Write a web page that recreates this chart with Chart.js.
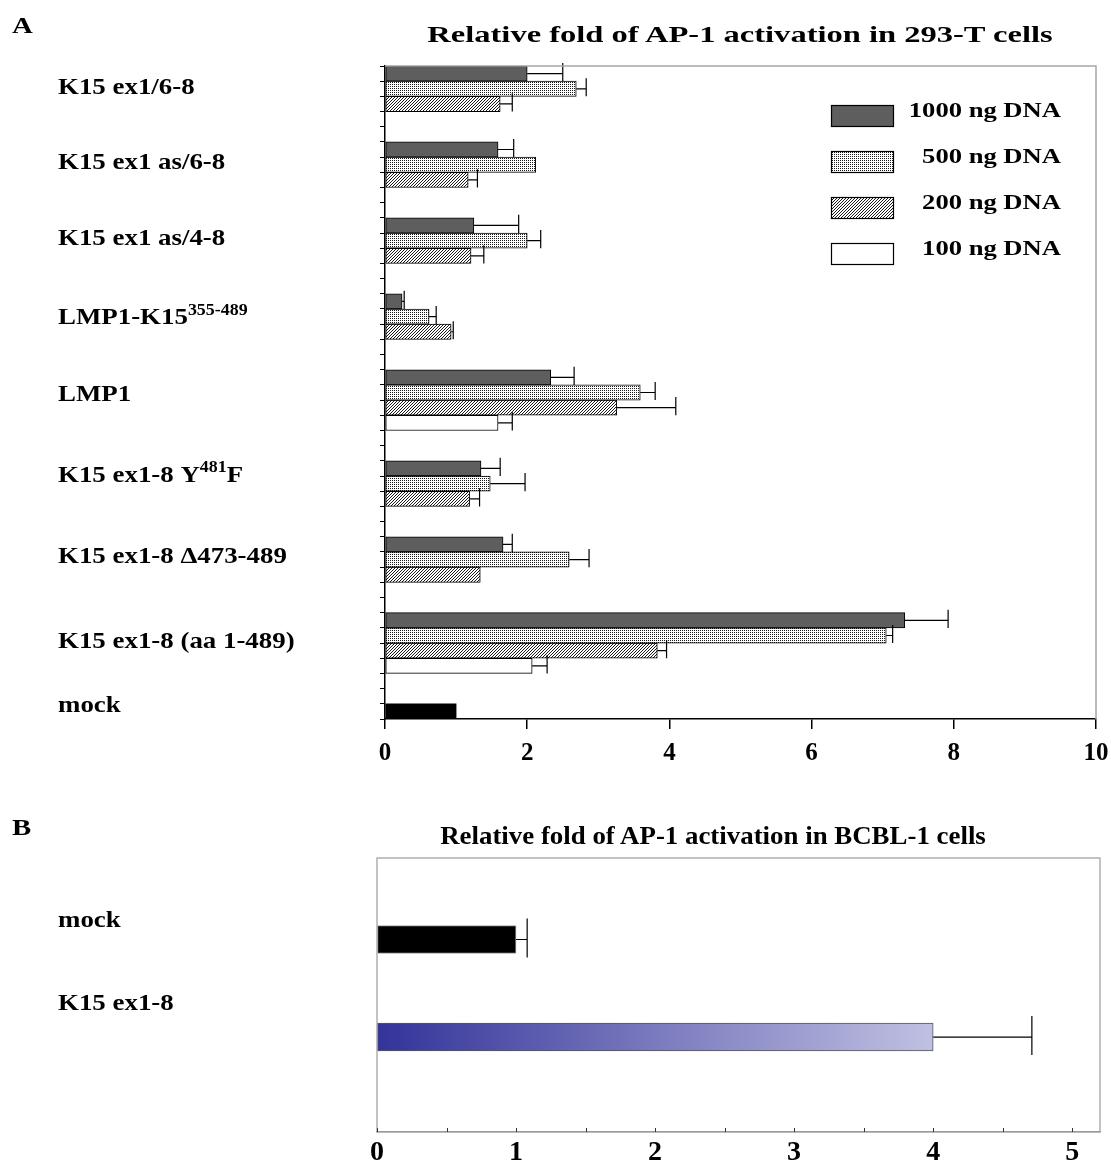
<!DOCTYPE html>
<html>
<head>
<meta charset="utf-8">
<script src="https://cdn.jsdelivr.net/npm/chart.js@4/dist/chart.umd.min.js"></script>
<style>
  html, body { margin: 0; padding: 0; background: #fff; }
  #page { position: relative; width: 1111px; height: 1165px; overflow: hidden; background: #fff;
          font-family: "Liberation Serif", "Times New Roman", serif; font-weight: bold; color: #000; }
  #page canvas { position: absolute; left: 0; }
  .txt { position: absolute; white-space: nowrap; line-height: 1; z-index: 2; }
  .left { transform-origin: 0 50%; }
  .center { transform-origin: 50% 50%; }
</style>
</head>
<body>
<div id="page">
  <canvas id="chartA" width="1111" height="790" style="top:0"></canvas>
  <canvas id="chartB" width="1111" height="375" style="top:790px"></canvas>
  <div class="txt left" style="left:12px;top:13px;font-size:24px;transform:scaleX(1.2)">A</div>
  <div class="txt center" style="left:740px;top:22px;font-size:24px;transform:translateX(-50%) scaleX(1.355)">Relative fold of AP-1 activation in 293-T cells</div>
  <div class="txt left" style="left:12px;top:815px;font-size:24px;transform:scaleX(1.2)">B</div>
  <div class="txt center" style="left:713px;top:823px;font-size:25px;transform:translateX(-50%) scaleX(1.075)">Relative fold of AP-1 activation in BCBL-1 cells</div>
</div>
<script>
// ---- Panel A: AP-1 activation in 293-T cells (relative fold) ----
const constructs = [
  'K15 ex1/6-8',
  'K15 ex1 as/6-8',
  'K15 ex1 as/4-8',
  'LMP1-K15^{355-489}',
  'LMP1',
  'K15 ex1-8 Y^{481}F',
  'K15 ex1-8 \u0394473-489',
  'K15 ex1-8 (aa 1-489)'
];
const mockLabel = 'mock';
const doseLabels = ['1000 ng DNA', '500 ng DNA', '200 ng DNA', '100 ng DNA'];

const fold1000 = [2.00, 1.59, 1.25, 0.24, 2.33, 1.35, 1.66, 7.31];
const fold500  = [2.69, 2.12, 2.00, 0.62, 3.59, 1.48, 2.59, 7.05];
const fold200  = [1.62, 1.17, 1.21, 0.93, 3.26, 1.19, 1.34, 3.83];
const fold100  = [null, null, null, null, 1.59, null, null, 2.07];

const sd1000 = [0.50, 0.22, 0.63, 0.03, 0.33, 0.27, 0.13, 0.61];
const sd500  = [0.14, 0.00, 0.19, 0.10, 0.21, 0.49, 0.28, 0.09];
const sd200  = [0.17, 0.13, 0.18, 0.03, 0.83, 0.14, 0.00, 0.13];
const sd100  = [null, null, null, null, 0.20, null, null, 0.21];

const mockFold = 1.00;
const xTicksA = [0, 2, 4, 6, 8, 10];

// ---- Panel B: AP-1 activation in BCBL-1 cells ----
const bcblLabels = ['mock', 'K15 ex1-8'];
const bcblFold   = [1.00, 4.00];
const bcblSd     = [0.08, 0.71];
const xTicksB    = [0, 1, 2, 3, 4, 5];

// ---------------------------------------------------------------
// Layout: every bar sits in its own row of the category axis;
// rows per construct group (bars + spacer rows), mock takes the last row.
const GROUP_ROWS = [5, 5, 5, 5, 6, 5, 5, 6];
const groupStart = [];
GROUP_ROWS.reduce((acc, n, i) => { groupStart[i] = acc; return acc + n; }, 0);
const MOCK_ROW = GROUP_ROWS.reduce((a, b) => a + b, 0);
const N_ROWS = MOCK_ROW + 1;
// vertical placement of the row captions (in row units from the top)
const LABEL_ROW = [1.45, 6.38, 11.39, 16.6, 21.66, 27.0, 32.3, 37.9, 42.15];

const FONT = '"Liberation Serif", "Times New Roman", serif';

function place(values, offset) {
  const out = new Array(N_ROWS).fill(null);
  values.forEach((v, g) => { out[groupStart[g] + offset] = v; });
  return out;
}

// fills
const ctxA = document.getElementById('chartA').getContext('2d');
function makePattern(size, pixels, ink) {
  const c = document.createElement('canvas');
  c.width = size; c.height = size;
  const g = c.getContext('2d');
  g.fillStyle = '#fff'; g.fillRect(0, 0, size, size);
  g.fillStyle = ink;
  pixels.forEach(([x, y]) => g.fillRect(x, y, 1, 1));
  return ctxA.createPattern(c, 'repeat');
}
const stipple = makePattern(2, [[0, 0]], '#1a1a1a');
const hatch = makePattern(3, [[2, 0], [1, 1], [0, 2]], '#1a1a1a');

// horizontally scaled text
function drawText(ctx, text, x, y, size, stretch, align) {
  ctx.save();
  ctx.font = `bold ${size}px ${FONT}`;
  ctx.fillStyle = '#000';
  ctx.textAlign = align || 'left';
  ctx.textBaseline = 'middle';
  ctx.translate(x, y);
  ctx.scale(stretch, 1);
  ctx.fillText(text, 0, 0);
  ctx.restore();
}

// text with ^{superscript} segments
function drawRich(ctx, text, x, y, size, stretch) {
  const parts = []; const re = /\^\{([^}]*)\}/g; let last = 0, m;
  while ((m = re.exec(text))) {
    if (m.index > last) parts.push({ t: text.slice(last, m.index), sup: false });
    parts.push({ t: m[1], sup: true });
    last = re.lastIndex;
  }
  if (last < text.length) parts.push({ t: text.slice(last), sup: false });
  ctx.save();
  ctx.translate(x, y);
  ctx.scale(stretch, 1);
  ctx.textAlign = 'left'; ctx.textBaseline = 'middle'; ctx.fillStyle = '#000';
  let cx = 0;
  parts.forEach(p => {
    const fs = p.sup ? Math.round(size * 0.68) : size;
    ctx.font = `bold ${fs}px ${FONT}`;
    ctx.fillText(p.t, cx, p.sup ? -size * 0.32 : 0);
    cx += ctx.measureText(p.t).width;
  });
  ctx.restore();
}

// error bars drawn from each bar's end to value + sd
const errorBars = {
  id: 'errorBars',
  afterDatasetsDraw(chart, args, opts) {
    const ctx = chart.ctx, xs = chart.scales.x;
    chart.data.datasets.forEach((ds, di) => {
      if (!ds.errors) return;
      const meta = chart.getDatasetMeta(di);
      meta.data.forEach((bar, i) => {
        const d = ds.data[i];
        const v = (d !== null && typeof d === 'object') ? d.x : d;
        const e = ds.errors[i];
        if (v == null || !e) return;
        const xEnd = xs.getPixelForValue(v + e);
        const h = bar.height;
        ctx.save();
        ctx.strokeStyle = '#000';
        ctx.lineWidth = opts.lineWidth || 1.2;
        ctx.beginPath();
        ctx.moveTo(bar.x, bar.y); ctx.lineTo(xEnd, bar.y);
        ctx.moveTo(xEnd, bar.y - h / 2 - (opts.capOver || 0));
        ctx.lineTo(xEnd, bar.y + h / 2 + (opts.capUnder || 0));
        ctx.stroke();
        ctx.restore();
      });
    });
  }
};

const panelADecor = {
  id: 'panelADecor',
  afterDraw(chart) {
    const ctx = chart.ctx, a = chart.chartArea, xs = chart.scales.x;
    // light frame on top and right
    ctx.save();
    ctx.strokeStyle = '#a6a6a6'; ctx.lineWidth = 1.5;
    ctx.beginPath();
    ctx.moveTo(a.left, a.top); ctx.lineTo(a.right, a.top); ctx.lineTo(a.right, a.bottom);
    ctx.stroke();
    ctx.restore();
    // x tick labels
    xs.ticks.forEach(t => drawText(ctx, String(t.value), xs.getPixelForValue(t.value), a.bottom + 35, 25, 1, 'center'));
    // row captions
    const rowH = (a.bottom - a.top) / N_ROWS;
    [...constructs, mockLabel].forEach((lab, i) => {
      drawRich(ctx, lab, 58, a.top + LABEL_ROW[i] * rowH, 24, 1.12);
    });
    // legend
    const ds = chart.data.datasets.slice(0, 4);
    ds.forEach((d, i) => {
      const by = 105 + i * 46;
      ctx.save();
      ctx.fillStyle = d.backgroundColor;
      ctx.fillRect(831, by, 63, 22);
      ctx.strokeStyle = '#000'; ctx.lineWidth = 1.2;
      ctx.strokeRect(831.5, by + 0.5, 62, 21);
      ctx.restore();
      drawText(ctx, d.label, 1061, by + 7, 20, 1.33, 'right');
    });
  }
};

const barCommon = { borderColor: '#000', borderWidth: 1, borderSkipped: false, grouped: false,
                    categoryPercentage: 1, barPercentage: 1 };

const mockRow = new Array(N_ROWS).fill(null); mockRow[MOCK_ROW] = mockFold;

new Chart(ctxA, {
  type: 'bar',
  data: {
    labels: new Array(N_ROWS).fill(''),
    datasets: [
      { ...barCommon, label: doseLabels[0], data: place(fold1000, 0), errors: place(sd1000, 0), backgroundColor: '#5e5e5e' },
      { ...barCommon, label: doseLabels[1], data: place(fold500, 1), errors: place(sd500, 1), backgroundColor: stipple },
      { ...barCommon, label: doseLabels[2], data: place(fold200, 2), errors: place(sd200, 2), backgroundColor: hatch },
      { ...barCommon, label: doseLabels[3], data: place(fold100, 3), errors: place(sd100, 3), backgroundColor: '#ffffff' },
      { ...barCommon, label: mockLabel, data: mockRow, backgroundColor: '#000', borderWidth: 0 }
    ]
  },
  options: {
    responsive: false, animation: false, devicePixelRatio: 1, indexAxis: 'y',
    layout: { padding: { top: 66, right: 15, left: 0, bottom: 0 } },
    plugins: {
      legend: { display: false }, tooltip: { enabled: false },
      errorBars: { lineWidth: 1.2, capOver: 3, capUnder: 0 }
    },
    scales: {
      x: {
        type: 'linear', min: xTicksA[0], max: xTicksA[xTicksA.length - 1],
        afterBuildTicks(s) { s.ticks = xTicksA.map(v => ({ value: v })); },
        ticks: { display: false },
        grid: { drawOnChartArea: false, tickLength: 10, color: '#000', lineWidth: 1.5 },
        border: { color: '#000', width: 1.5 },
        afterFit(s) { s.height = 71; s.paddingLeft = 0; s.paddingRight = 0; }
      },
      y: {
        type: 'category', offset: true,
        ticks: { display: false, autoSkip: false },
        grid: { offset: true, drawOnChartArea: false, tickLength: 5, color: '#000', lineWidth: 1 },
        border: { color: '#000', width: 1.5 },
        afterFit(s) { s.width = 385; }
      }
    }
  },
  plugins: [errorBars, panelADecor]
});

// ---- Panel B ----
const ctxB = document.getElementById('chartB').getContext('2d');
const LABEL_POS_B = [-0.19, 0.66];

const panelBDecor = {
  id: 'panelBDecor',
  afterDraw(chart) {
    const ctx = chart.ctx, a = chart.chartArea, xs = chart.scales.x, ys = chart.scales.y;
    ctx.save();
    ctx.strokeStyle = '#9c9c9c'; ctx.lineWidth = 1.2;
    ctx.strokeRect(a.left, a.top, a.right - a.left, a.bottom - a.top);
    // small inward ticks every half unit
    ctx.strokeStyle = '#333'; ctx.lineWidth = 1;
    ctx.beginPath();
    for (let v = 0; v <= 5; v += 0.5) {
      const px = Math.round(xs.getPixelForValue(v)) + 0.5;
      ctx.moveTo(px, a.bottom - 4); ctx.lineTo(px, a.bottom);
    }
    ctx.stroke();
    ctx.restore();
    xs.ticks.forEach(t => drawText(ctx, String(t.value), xs.getPixelForValue(t.value), a.bottom + 21, 28, 1, 'center'));
    bcblLabels.forEach((lab, i) => drawRich(ctx, lab, 58, ys.getPixelForValue(LABEL_POS_B[i]), 24, 1.12));
  }
};

new Chart(ctxB, {
  type: 'bar',
  data: {
    datasets: [{
      data: bcblFold.map((v, i) => ({ x: v, y: i })),
      errors: bcblSd,
      backgroundColor(c) {
        if (c.dataIndex === 0) return '#000';
        const ch = c.chart; if (!ch.chartArea) return '#8080c0';
        const xs = ch.scales.x;
        const g = ch.ctx.createLinearGradient(xs.getPixelForValue(0), 0, xs.getPixelForValue(bcblFold[c.dataIndex]), 0);
        g.addColorStop(0, '#33339a');
        g.addColorStop(1, '#c0c0e2');
        return g;
      },
      borderColor(c) { return c.dataIndex === 0 ? '#9c9c9c' : '#555'; },
      borderWidth: 1, borderSkipped: false,
      barThickness: 28
    }]
  },
  options: {
    responsive: false, animation: false, devicePixelRatio: 1, indexAxis: 'y',
    layout: { padding: { top: 68, right: 11, left: 377, bottom: 0 } },
    plugins: {
      legend: { display: false }, tooltip: { enabled: false },
      errorBars: { lineWidth: 1.2, capOver: 7, capUnder: 4 }
    },
    scales: {
      x: {
        type: 'linear', min: 0, max: 5.2,
        afterBuildTicks(s) { s.ticks = xTicksB.map(v => ({ value: v })); },
        ticks: { display: false },
        grid: { drawOnChartArea: false, drawTicks: false },
        border: { color: '#9c9c9c', width: 1.2 },
        afterFit(s) { s.height = 33; s.paddingLeft = 0; s.paddingRight = 0; }
      },
      y: { type: 'linear', min: -0.836, max: 1.974, reverse: true, offset: false, display: false }
    }
  },
  plugins: [errorBars, panelBDecor]
});
</script>
</body>
</html>
